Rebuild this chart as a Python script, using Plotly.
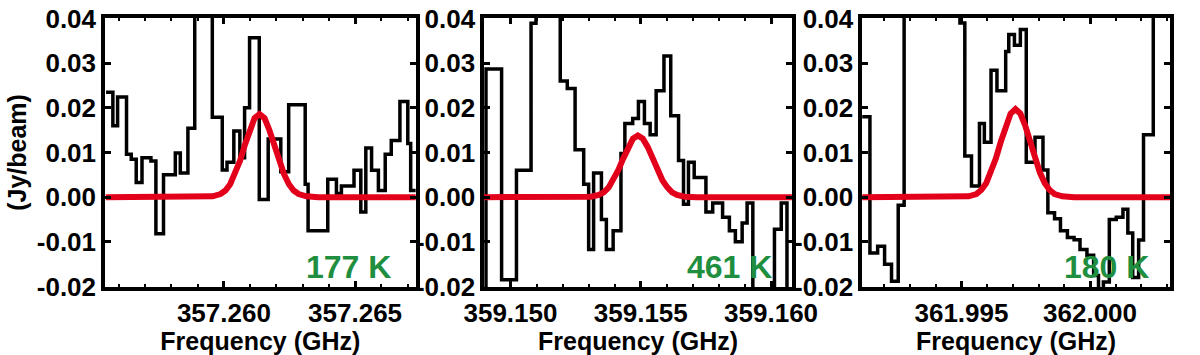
import plotly.graph_objects as go

# ---- panel 1 : 357.26 GHz, step edges (GHz) and channel fluxes (Jy/beam)
freq1 = [357.25551, 357.25577, 357.25595, 357.25629, 357.25647, 357.25666, 357.25688,
         357.25722, 357.25741, 357.25770, 357.25815, 357.25834, 357.25863, 357.25889,
         357.25956, 357.25994, 357.26012, 357.26038, 357.26061, 357.26079, 357.26098,
         357.26135, 357.26169, 357.26217, 357.26247, 357.26310, 357.26321, 357.26396,
         357.26429, 357.26448, 357.26496, 357.26522, 357.26541, 357.26563, 357.26589,
         357.26615, 357.26638, 357.26671, 357.26701, 357.26712, 357.26735]
flux1 = [0.0235, 0.016, 0.0224, 0.0096, 0.0085, 0.0033, 0.0088, 0.0081, -0.0082, 0.0050,
         0.0099, 0.0054, 0.0154, 0.08, 0.0179, 0.0061, 0.0078, 0.0148, 0.0088, 0.0200,
         0.0357, -0.0005, 0.0130, 0.0057, 0.0207, 0.0029, -0.0075, 0.0040, 0.0008, 0.0025,
         0.0060, -0.0033, 0.0110, 0.0060, 0.0015, 0.0096, 0.0127, 0.0214, 0.0120, 0.0015]
model_f1 = [357.2555, 357.25913, 357.25957, 357.25987, 357.26006, 357.26024, 357.26043,
            357.26062, 357.26080, 357.26099, 357.26117, 357.26136, 357.26155, 357.26173,
            357.26192, 357.26211, 357.26229, 357.26248, 357.26266, 357.26285, 357.26315,
            357.26359, 357.2674]
model_y1 = [0, 0, 0.0002, 0.0007, 0.0015, 0.0029, 0.0052, 0.0082, 0.0117, 0.0151, 0.0177,
            0.0186, 0.0177, 0.0151, 0.0117, 0.0082, 0.0052, 0.0029, 0.0015, 0.0007, 0.0002,
            0, 0]

# ---- panel 2 : 359.155 GHz
freq2 = [359.14895, 359.14906, 359.14966, 359.15023, 359.15079, 359.15098, 359.15191,
         359.15218, 359.15248, 359.15281, 359.15300, 359.15319, 359.15349, 359.15368,
         359.15394, 359.15424, 359.15439, 359.15469, 359.15491, 359.15514, 359.15536,
         359.15559, 359.15589, 359.15615, 359.15645, 359.15664, 359.15683, 359.15705,
         359.15750, 359.15776, 359.15814, 359.15840, 359.15863, 359.15889, 359.15908,
         359.15930, 359.16013, 359.16039, 359.16061, 359.16088]
flux2 = [-0.03, 0.0287, -0.0185, 0.006, 0.0389, 0.08, 0.026, 0.0243, 0.0106, 0.0029,
         -0.0117, 0.0054, -0.005, -0.0117, -0.0075, 0.0098, 0.0165, 0.0176, 0.0214, 0.0165,
         0.014, 0.0238, 0.0316, 0.0182, 0.0082, -0.0016, 0.0078, 0.0044, -0.0033, -0.0013,
         -0.0045, -0.0075, -0.0100, -0.0058, -0.0013, -0.03, -0.0072, -0.0013, -0.03]
model_f2 = [359.1489, 359.15264, 359.15309, 359.15339, 359.15358, 359.15377, 359.15395,
            359.15414, 359.15433, 359.15452, 359.15470, 359.15489, 359.15508, 359.15527,
            359.15545, 359.15564, 359.15583, 359.15602, 359.15620, 359.15639, 359.15669,
            359.15714, 359.1609]
model_y2 = [0, 0, 0.0001, 0.0005, 0.0011, 0.0022, 0.0038, 0.0061, 0.0087, 0.0112, 0.0131,
            0.0138, 0.0131, 0.0112, 0.0087, 0.0061, 0.0038, 0.0022, 0.0011, 0.0005, 0.0001,
            0, 0]

# ---- panel 3 : 361.997 GHz
freq3 = [361.99110, 361.99144, 361.99174, 361.99201, 361.99228, 361.99254, 361.99277,
         361.99494, 361.99513, 361.99539, 361.99570, 361.99589, 361.99615, 361.99638,
         361.99672, 361.99684, 361.99706, 361.99729, 361.99752, 361.99786, 361.99817,
         361.99836, 361.99862, 361.99885, 361.99912, 361.99938, 361.99961, 361.99988,
         362.00014, 362.00033, 362.00052, 362.00075, 362.00102, 362.00128, 362.00147,
         362.00166, 362.00189, 362.00208, 362.00246, 362.00318]
flux3 = [0.018, -0.0125, -0.011, -0.015, -0.0188, -0.0018, 0.08, 0.039, 0.0092, 0.0025,
         0.0165, 0.0123, 0.0284, 0.0238, 0.0326, 0.0364, 0.034, 0.0375, 0.0078, 0.0134,
         0.0061, -0.0035, -0.0048, -0.0075, -0.009, -0.0095, -0.0117, -0.013, -0.0175,
         -0.022, -0.019, -0.005, -0.0045, -0.0027, -0.008, -0.018, -0.0096, 0.014, 0.08]
model_f3 = [361.9911, 361.99482, 361.99528, 361.99558, 361.99577, 361.99596, 361.99615,
            361.99634, 361.99653, 361.99672, 361.99691, 361.99710, 361.99729, 361.99748,
            361.99767, 361.99786, 361.99805, 361.99824, 361.99843, 361.99862, 361.99892,
            361.99938, 362.0032]
model_y3 = [0, 0, 0.0002, 0.0007, 0.0016, 0.0031, 0.0055, 0.0087, 0.0124, 0.0160, 0.0187,
            0.0197, 0.0187, 0.0160, 0.0124, 0.0087, 0.0055, 0.0031, 0.0016, 0.0007, 0.0002,
            0, 0]

temps = ["177 K", "461 K", "180 K"]

xranges = [[357.25547, 357.26731], [359.14899, 359.16080], [361.99114, 362.00311]]
xtickvals = [[357.260, 357.265], [359.150, 359.155, 359.160], [361.995, 362.000]]
xticktext = [["357.260", "357.265"], ["359.150", "359.155", "359.160"],
             ["361.995", "362.000"]]
ytickvals = [-0.02, -0.01, 0.0, 0.01, 0.02, 0.03, 0.04]
yticktext = ["-0.02", "-0.01", "0.00", "0.01", "0.02", "0.03", "0.04"]

domains = [[0.0, 0.2917], [0.356, 0.645], [0.711, 1.0]]
text_x = [0.928, 0.943, 0.937]

FONT = "Liberation Sans, Arial, sans-serif"
GREEN = "#1f8f3f"
RED = "#e3001b"

spectra = [(freq1, flux1, model_f1, model_y1),
           (freq2, flux2, model_f2, model_y2),
           (freq3, flux3, model_f3, model_y3)]

fig = go.Figure()
layout = dict(
    autosize=True,
    margin=dict(l=105, r=5, t=4, b=68),
    paper_bgcolor="white", plot_bgcolor="white",
    showlegend=False,
    font=dict(family=FONT, size=25, color="black", weight="bold"),
    annotations=[],
)

for i, (fx, fy, mx, my) in enumerate(spectra):
    n = "" if i == 0 else str(i + 1)
    fig.add_trace(go.Scatter(
        x=fx, y=fy + [fy[-1]], mode="lines",
        line=dict(color="black", width=3.5, shape="hv"),
        xaxis="x" + n, yaxis="y" + n, hoverinfo="skip"))
    fig.add_trace(go.Scatter(
        x=mx, y=my, mode="lines",
        line=dict(color=RED, width=6),
        xaxis="x" + n, yaxis="y" + n, hoverinfo="skip"))

    layout["xaxis" + n] = dict(
        domain=domains[i], range=xranges[i], anchor="y" + n,
        tickmode="array", tickvals=xtickvals[i], ticktext=xticktext[i],
        ticks="inside", ticklen=6, tickwidth=3, tickcolor="black",
        minor=dict(tickmode="linear", tick0=xtickvals[i][0], dtick=0.001,
                   ticks="inside", ticklen=3, tickwidth=2, tickcolor="black",
                   showgrid=False),
        showline=True, linewidth=3.5, linecolor="black", mirror="allticks",
        showgrid=False, zeroline=False,
        tickfont=dict(family=FONT, size=26, weight="bold"),
        title=dict(text="Frequency (GHz)", standoff=2,
                   font=dict(family=FONT, size=25, weight="bold")),
    )
    layout["yaxis" + n] = dict(
        domain=[0, 1], range=[-0.0201, 0.0401], anchor="x" + n,
        tickmode="array", tickvals=ytickvals, ticktext=yticktext,
        ticks="inside", ticklen=6, tickwidth=3, tickcolor="black",
        showline=True, linewidth=3.5, linecolor="black", mirror="allticks",
        showgrid=False, zeroline=False, ticklabeloverflow="allow",
        tickfont=dict(family=FONT, size=26, weight="bold"),
    )
    layout["annotations"].append(dict(
        text=temps[i], xref="x" + n + " domain", yref="y" + n + " domain",
        x=text_x[i], y=0.075, xanchor="right", yanchor="middle", showarrow=False,
        font=dict(family=FONT, size=32, color=GREEN, weight="bold")))

layout["yaxis"]["title"] = dict(text="(Jy/beam)", standoff=4,
                                font=dict(family=FONT, size=25, weight="bold"))

fig.update_layout(**layout)
fig.write_html(
    "out.html",
    config={"displayModeBar": False, "responsive": True},
    default_width="100vw", default_height="100vh",
    post_script="document.body.style.margin='0';"
                "document.body.style.overflow='hidden';"
                "Plotly.Plots.resize(document.getElementById('{plot_id}'));",
)
